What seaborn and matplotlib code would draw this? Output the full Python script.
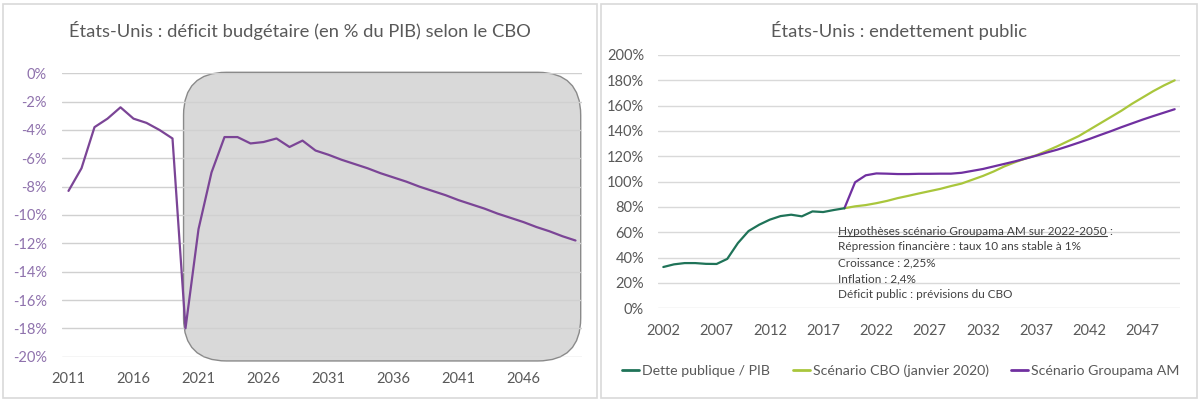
import matplotlib
matplotlib.use("Agg")
import matplotlib.pyplot as plt
import seaborn as sns
import pandas as pd
from matplotlib.patches import FancyBboxPatch, Rectangle
from matplotlib.lines import Line2D

# Données - déficit budgétaire (% du PIB) selon le CBO
annees_deficit = list(range(2011, 2051))
deficit = [-8.3, -6.7, -3.8, -3.2, -2.4, -3.2, -3.5, -4.0, -4.6, -18.0,
           -11.0, -7.0, -4.5, -4.5, -4.95, -4.85, -4.6, -5.2, -4.75, -5.45,
           -5.75, -6.1, -6.4, -6.7, -7.05, -7.35, -7.65, -8.0, -8.3, -8.6,
           -8.95, -9.25, -9.55, -9.9, -10.2, -10.5, -10.85, -11.15, -11.5, -11.8]

# Données - endettement public (% du PIB)
annees_dette = list(range(2002, 2020))
dette = [32.6, 34.7, 35.7, 35.7, 35.1, 35.0, 39.0, 51.5, 61.0, 66.0,
         70.0, 72.8, 73.9, 72.6, 76.5, 76.0, 77.6, 79.0]

annees_scen = list(range(2019, 2051))
scen_cbo = [79.0, 80.5, 81.5, 83.0, 84.8, 87.0, 88.8, 90.7, 92.5, 94.3,
            96.5, 98.5, 101.5, 104.5, 108.0, 112.0, 115.3, 118.3, 120.8, 124.3,
            128.0, 132.0, 136.0, 141.0, 146.0, 151.0, 156.0, 161.5, 166.5, 171.5,
            176.0, 180.0]
scen_groupama = [79.0, 99.5, 105.0, 106.5, 106.3, 106.0, 106.0, 106.2, 106.2, 106.3,
                 106.3, 107.0, 108.5, 110.0, 112.0, 114.0, 116.0, 118.2, 120.5, 123.0,
                 125.3, 128.0, 130.8, 133.7, 136.8, 139.8, 143.0, 146.0, 149.0, 151.8,
                 154.5, 157.2]

titre_gauche = "États-Unis : déficit budgétaire (en % du PIB) selon le CBO"
titre_droite = "États-Unis : endettement public"
hypotheses = ["Répression financière : taux 10 ans stable à 1%",
              "Croissance : 2,25%",
              "Inflation : 2,4%",
              "Déficit public : prévisions du CBO"]
noms_series = ["Dette publique / PIB", "Scénario CBO (janvier 2020)", "Scénario Groupama AM"]

violet = "#7030a0"
violet_g = "#7b4596"
vert = "#1f7358"
jaune = "#a9c63c"
gris_txt = "#595959"
gris_grid = "#d0d0d0"

sns.set_theme(style="white")
plt.rcParams['font.family'] = ['Lato', 'DejaVu Sans']

W, H = 1200, 405
fig = plt.figure(figsize=(12, 4.05), dpi=100)

def fx(px):
    return px / W

def fy(py):
    return 1 - py / H

# cadres des deux graphiques
for x0, x1 in [(3, 597), (601, 1197)]:
    fig.add_artist(Rectangle((fx(x0), fy(398)), fx(x1 - x0), (398 - 4) / H,
                             transform=fig.transFigure, fill=False,
                             ec="#d9d9d9", lw=1.2))

# ---- graphique de gauche
ax1 = fig.add_axes([fx(62), fy(356.7), fx(520), (356.7 - 73.3) / H])
df1 = pd.DataFrame({"annee": annees_deficit, "deficit": deficit})

box = FancyBboxPatch((2019.85, -20.3), 2050.4 - 2019.85, 20.37,
                     boxstyle="round,pad=0,rounding_size=3.3",
                     mutation_aspect=(20 / 283.4) / (40 / 520),
                     fc="#d9d9d9", ec="#8a8a8a", lw=1.0, clip_on=False, zorder=1)
ax1.add_patch(box)
sns.lineplot(data=df1, x="annee", y="deficit", ax=ax1, color=violet_g, lw=1.6, zorder=4)

ax1.set_xlim(2010.5, 2050.5)
ax1.set_ylim(-20, 0)
ax1.set_yticks(range(-20, 1, 2))
ax1.set_yticklabels([f"{v}%" for v in range(-20, 1, 2)])
ax1.set_xticks(range(2011, 2050, 5))
ax1.set_axisbelow(False)
ax1.grid(axis="y", color=gris_grid, lw=1.0, zorder=2)
ax1.tick_params(axis="y", length=0, pad=11, labelsize=10.5, labelcolor="#8f72ad")
ax1.tick_params(axis="x", length=0, pad=11, labelsize=10.5, labelcolor=gris_txt)
ax1.set_xlabel("")
ax1.set_ylabel("")
for s in ax1.spines.values():
    s.set_visible(False)
fig.text(fx(300), fy(30), titre_gauche, ha="center", va="center",
         fontsize=13.2, color=gris_txt)

# ---- graphique de droite
ax2 = fig.add_axes([fx(658), fy(308.3), fx(522), (308.3 - 55) / H])
df_dette = pd.DataFrame({"annee": annees_dette, "valeur": dette})
df_scen = pd.DataFrame({"annee": annees_scen, "cbo": scen_cbo, "groupama": scen_groupama})

sns.lineplot(data=df_dette, x="annee", y="valeur", ax=ax2, color=vert, lw=1.6, zorder=4)
sns.lineplot(data=df_scen, x="annee", y="cbo", ax=ax2, color=jaune, lw=1.6, zorder=3)
sns.lineplot(data=df_scen, x="annee", y="groupama", ax=ax2, color=violet, lw=1.6, zorder=3)

ax2.set_xlim(2001.5, 2050.5)
ax2.set_ylim(0, 200)
ax2.set_yticks(range(0, 201, 20))
ax2.set_yticklabels([f"{v}%" for v in range(0, 201, 20)])
ax2.set_xticks(range(2002, 2050, 5))
ax2.grid(axis="y", color="#d9d9d9", lw=1.0)
ax2.set_axisbelow(True)
ax2.tick_params(axis="y", length=0, pad=10, labelsize=10.5, labelcolor=gris_txt)
ax2.tick_params(axis="x", length=0, pad=11, labelsize=10.5, labelcolor=gris_txt)
ax2.set_xlabel("")
ax2.set_ylabel("")
for s in ax2.spines.values():
    s.set_visible(False)
fig.text(fx(899), fy(30), titre_droite, ha="center", va="center",
         fontsize=13.2, color=gris_txt)

# encadré des hypothèses
t0 = fig.text(fx(838), fy(231), "Hypothèses scénario Groupama AM sur 2022-2050",
              ha="left", va="center", fontsize=8.5, color="#404040")
renderer = fig.canvas.get_renderer()
bb = t0.get_window_extent(renderer=renderer)
fig.add_artist(Line2D([bb.x0 / W, bb.x1 / W], [(bb.y0 + 1) / H, (bb.y0 + 1) / H],
                      transform=fig.transFigure, color="#404040", lw=0.8))
fig.text(bb.x1 / W, fy(231), " :", ha="left", va="center", fontsize=8.5, color="#404040")
for i, ligne in enumerate(hypotheses):
    fig.text(fx(838), fy(247 + 15.8 * i), ligne, ha="left", va="center",
             fontsize=8.5, color="#404040")

# légende
poignees = [Line2D([], [], color=c, lw=2) for c in (vert, jaune, violet)]
fig.legend(poignees, noms_series, loc="center", bbox_to_anchor=(fx(901), fy(371)),
           ncol=3, frameon=False, handlelength=1.2, handletextpad=0.2,
           columnspacing=1.6, fontsize=10.2, labelcolor=gris_txt)

fig.savefig("out.png", dpi=100)
